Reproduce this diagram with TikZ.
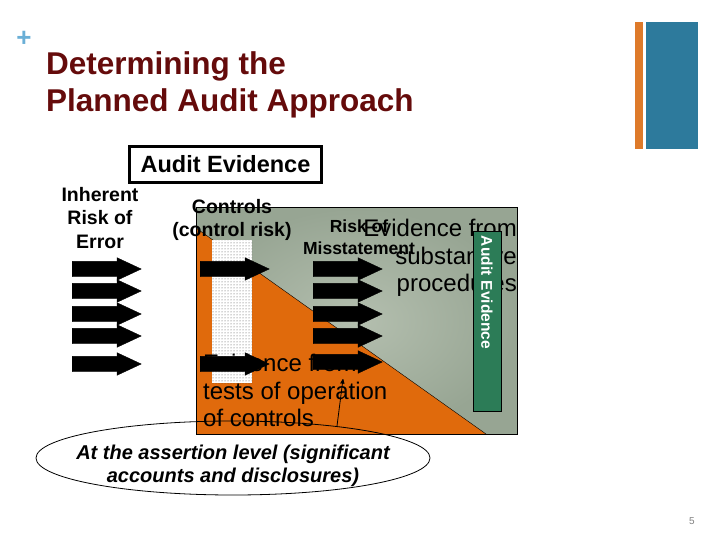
\documentclass[tikz,border=0pt]{standalone}
\usepackage{fontspec}
\setmainfont{Liberation Sans}
\usetikzlibrary{shapes.arrows,shapes.geometric,patterns,arrows}
\definecolor{titlered}{HTML}{650B0B}
\definecolor{plusblue}{HTML}{6AAFD6}
\definecolor{barorange}{HTML}{DE7A2A}
\definecolor{barblue}{HTML}{2D7A9C}
\definecolor{boxdark}{HTML}{97A593}
\definecolor{boxlight}{HTML}{B4BFAF}
\definecolor{riskorange}{HTML}{E06A0C}
\definecolor{evgreen}{HTML}{2C7C57}
\tikzset{%
	blk/.style={single arrow, fill=black, draw=black, inner xsep=0pt, inner ysep=7.5pt, minimum height=69pt, single arrow head extend=3.5pt, single arrow tip angle=50, anchor=tail},
	lbl/.style={font=\fontsize{19.5}{23.5}\selectfont\bfseries, align=center, inner sep=0pt},
	big/.style={font=\fontsize{24}{27.5}\selectfont, inner sep=0pt},
	evbar/.style={draw=black, fill=evgreen, rotate=-90, minimum width=180pt, minimum height=28pt, inner xsep=5pt, inner ysep=0pt, text width=170pt, align=left, text=white, font=\fontsize{15.5}{15.5}\selectfont\bfseries},
	arrow/.style={line width=0.8pt,->,>=stealth'}}

\begin{document}
\begin{tikzpicture}[x=1pt,y=-1pt]
	\useasboundingbox (0,0) rectangle (720,540);
	% side bars
	\fill[barorange] (635,22) rectangle (643,149);
	\fill[barblue] (646,22) rectangle (698,149);
	\node[text=plusblue, font=\fontsize{26}{26}\selectfont\bfseries, inner sep=0pt] (PL) at (24,39) {+};
	\node[text=titlered, font=\fontsize{31.5}{37}\selectfont\bfseries, align=left, anchor=north west, inner sep=0pt] (TI) at (46,51) {Determining the\\Planned Audit Approach};
	\node[draw, line width=3pt, minimum width=192pt, minimum height=36pt, inner sep=0pt, font=\fontsize{23.5}{24}\selectfont\bfseries] (AE) at (225.5,164.5) {Audit Evidence};

	% evidence box
	\shade[inner color=boxlight, outer color=boxdark] (196,208) rectangle (517,434);
	\fill[riskorange] (196,228) -- (196,434) -- (486,434) -- cycle;
	\draw (196,228) -- (486,434);
	\draw[line width=1pt] (196,208) rectangle (517,434);
	\fill[white] (212,240) rectangle (252,383);
	\fill[pattern=dots, pattern color=black!70] (212,240) rectangle (252,383);

	\node[lbl, anchor=north] (IR) at (100,187) {Inherent\\Risk of\\Error};
	\node[lbl, anchor=north] (CR) at (232,199) {Controls\\(control risk)};
	\node[lbl, font=\fontsize{17.5}{22}\selectfont\bfseries, anchor=north] (RM) at (359,220) {Risk of\\Misstatement};
	\node[big, align=right, anchor=north east] (SP) at (517,219) {Evidence from\\substantive\\procedures};
	\node[big, align=left, anchor=north west] (TC) at (203,354) {Evidence from\\tests of operation\\of controls};
	\node[evbar] (EB) at (487,321) {Audit Evidence};

	\node[blk] (L1) at (72,269) {};
	\node[blk] (L2) at (72,291) {};
	\node[blk] (L3) at (72,314) {};
	\node[blk] (L4) at (72,336) {};
	\node[blk] (L5) at (72,364) {};
	\node[blk] (M1) at (200,269) {};
	\node[blk] (M2) at (200,364) {};
	\node[blk] (R1) at (313,269) {};
	\node[blk] (R2) at (313,291) {};
	\node[blk] (R3) at (313,314) {};
	\node[blk] (R4) at (313,336) {};
	\node[blk] (R5) at (313,362) {};

	\node[draw, ellipse, line width=0.8pt, minimum width=394pt, minimum height=74pt, inner sep=0pt] (AL) at (233,458) {};
	\node[font=\fontsize{20}{23}\selectfont\bfseries\itshape, align=center, anchor=north, inner sep=0pt] (ALT) at (233,445) {At the assertion level (significant\\accounts and disclosures)};
	\coordinate (TP) at (343,379);
	\draw[arrow] (AL.17) -- (TP);

	\node[text=gray, font=\fontsize{10}{10}\selectfont, inner sep=0pt] (PG) at (692,521) {5};
\end{tikzpicture}
\end{document}
